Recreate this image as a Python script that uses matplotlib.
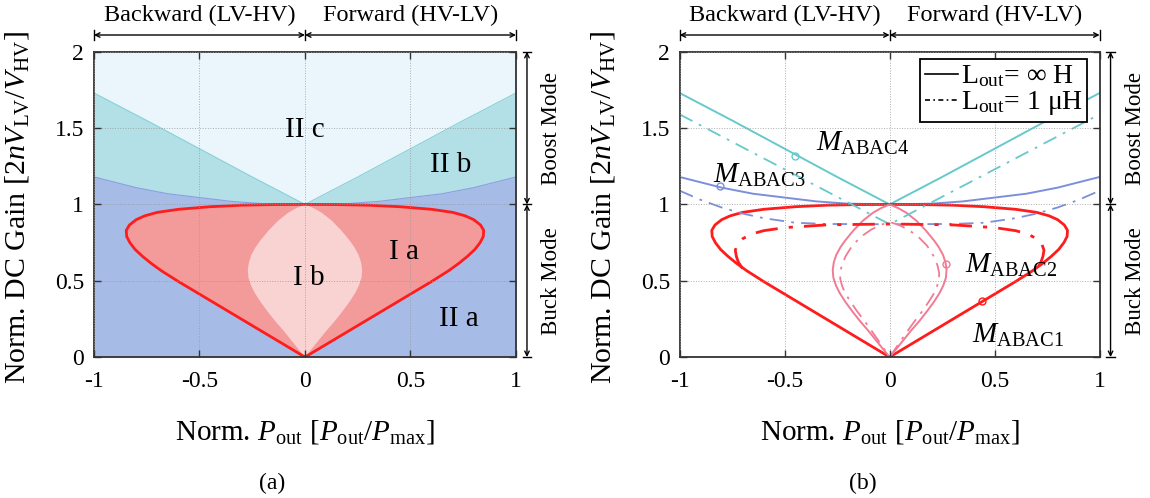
import matplotlib
matplotlib.use("Agg")
import matplotlib.pyplot as plt
from matplotlib.lines import Line2D
import numpy as np

plt.rcParams['font.family'] = ['Liberation Serif', 'DejaVu Serif']
plt.rcParams['mathtext.fontset'] = 'custom'
plt.rcParams['mathtext.rm'] = 'Liberation Serif'
plt.rcParams['mathtext.it'] = 'Liberation Serif:italic'
plt.rcParams['axes.unicode_minus'] = False

# ===== DATA (right half of each symmetric curve) =====
# M_ABAC1 boundary (region I a), solid and dash-dot
abac1_x = [0.0, 0.2, 0.4, 0.6, 0.68, 0.73, 0.77, 0.805, 0.83, 0.845, 0.847, 0.832,
           0.80, 0.76, 0.70, 0.60, 0.45, 0.30, 0.15, 0.0]
abac1_y = [0.0, 0.165, 0.33, 0.495, 0.565, 0.615, 0.66, 0.705, 0.75, 0.79, 0.83, 0.865,
           0.90, 0.925, 0.948, 0.968, 0.985, 0.995, 0.999, 1.0]
abac1_dd_x = [0.0, 0.3, 0.5, 0.6, 0.66, 0.70, 0.725, 0.735, 0.73, 0.72, 0.70]
abac1_dd_y = [0.872, 0.866, 0.848, 0.828, 0.805, 0.775, 0.74, 0.70, 0.66, 0.62, 0.58]

# M_ABAC2 lens (region I b), solid and dash-dot
abac2_x = [0.0, 0.03, 0.062, 0.10, 0.142, 0.178, 0.21, 0.238, 0.256, 0.268, 0.271,
           0.266, 0.254, 0.234, 0.212, 0.172, 0.126, 0.08, 0.042, 0.0]
abac2_y = [0.0, 0.05, 0.105, 0.17, 0.237, 0.30, 0.36, 0.42, 0.47, 0.52, 0.57,
           0.62, 0.67, 0.72, 0.763, 0.83, 0.895, 0.945, 0.975, 1.0]
abac2_dd_x = [0.0, 0.025, 0.052, 0.085, 0.12, 0.155, 0.185, 0.208, 0.225, 0.235, 0.236,
              0.228, 0.21, 0.178, 0.135, 0.088, 0.045, 0.0]
abac2_dd_y = [0.0, 0.05, 0.105, 0.17, 0.237, 0.30, 0.36, 0.41, 0.46, 0.51, 0.55, 0.60,
              0.66, 0.73, 0.79, 0.835, 0.865, 0.885]

# M_ABAC3 (blue)
abac3_x = [0.0, 0.2, 0.35, 0.5, 0.65, 0.8, 0.9, 1.0]
abac3_y = [1.0, 1.005, 1.02, 1.045, 1.07, 1.11, 1.145, 1.18]
abac3_dd_x = [0.0, 0.3, 0.45, 0.6, 0.7, 0.8, 0.9, 1.0]
abac3_dd_y = [0.87, 0.872, 0.88, 0.91, 0.94, 0.98, 1.03, 1.09]

# M_ABAC4 (cyan)
abac4_x = [0.0, 0.25, 0.5, 0.75, 1.0]
abac4_y = [1.0, 1.18, 1.365, 1.55, 1.73]
abac4_dd_x = [0.0, 0.5, 1.0]
abac4_dd_y = [0.87, 1.23, 1.59]


def mirror_closed(xr, yr):
    xr = np.asarray(xr); yr = np.asarray(yr)
    return np.concatenate([xr, -xr[::-1]]), np.concatenate([yr, yr[::-1]])


def mirror_open(xr, yr):
    xr = np.asarray(xr); yr = np.asarray(yr)
    return np.concatenate([-xr[::-1], xr]), np.concatenate([yr[::-1], yr])


C_BG = '#eaf6fb'
C_IIB = '#b3dfe7'
C_IIA = '#a6bce6'
C_IA = '#f39a9a'
C_IB = '#f9d2d2'
C_RED = '#ff1c1c'
C_PINK = '#f27a95'
C_BLUE = '#7b8fdc'
C_CYAN = '#66c9cc'

fig = plt.figure(figsize=(11.5, 4.98), dpi=100)
ax_a = fig.add_axes([0.0817, 0.283, 0.367, 0.613])
ax_b = fig.add_axes([0.591, 0.283, 0.3652, 0.613])


def style_axes(ax):
    ax.set_xlim(-1, 1)
    ax.set_ylim(0, 2)
    ax.set_xticks([-1, -0.5, 0, 0.5, 1])
    ax.set_xticklabels(['-1', '-0.5', '0', '0.5', '1'])
    ax.set_yticks([0, 0.5, 1, 1.5, 2])
    ax.set_yticklabels(['0', '0.5', '1', '1.5', '2'])
    ax.tick_params(direction='in', top=True, right=True, labelsize=17, length=5,
                   width=1, color='#333333')
    ax.tick_params(axis='x', pad=10)
    ax.tick_params(axis='y', pad=7)
    for s in ax.spines.values():
        s.set_color('#333333')
        s.set_linewidth(1.3)
    ax.grid(True, linestyle=':', color='#999999', linewidth=0.7, alpha=0.8)
    ax.set_axisbelow(False)
    ax.set_xlabel(r'Norm. $P_{\mathrm{out}}$ [$P_{\mathrm{out}}$/$P_{\mathrm{max}}$]', fontsize=21)
    ax.xaxis.set_label_coords(0.5, -0.2)
    ax.set_ylabel(r'Norm. DC Gain [2$n$$V_{\mathrm{LV}}$/$V_{\mathrm{HV}}$]', fontsize=21.5)
    ax.yaxis.set_label_coords(-0.15, 0.49)

    # top direction brackets
    yb = 2.11
    for x0, x1, lab in [(-1, 0, 'Backward (LV-HV)'), (0, 1, 'Forward (HV-LV)')]:
        ax.annotate('', xy=(x0, yb), xytext=(x1, yb), xycoords='data',
                    arrowprops=dict(arrowstyle='<->', lw=1, color='k',
                                    shrinkA=0, shrinkB=0, mutation_scale=8),
                    annotation_clip=False)
        ax.text((x0 + x1) / 2, 2.235, lab, ha='center', va='center', fontsize=17.5)
    for xt in [-1, 0, 1]:
        ax.plot([xt, xt], [yb - 0.03, yb + 0.03], color='k', lw=1, clip_on=False)

    # right mode brackets
    xb = 1.052
    for y0, y1, lab in [(1, 2, 'Boost Mode'), (0, 1, 'Buck Mode')]:
        ax.annotate('', xy=(xb, y0), xytext=(xb, y1), xycoords='data',
                    arrowprops=dict(arrowstyle='<->', lw=1, color='k',
                                    shrinkA=0, shrinkB=0, mutation_scale=8),
                    annotation_clip=False)
        ax.text(1.17, (y0 + y1) / 2, lab, ha='center', va='center',
                rotation=90, fontsize=16.5)
    for yt in [0, 1, 2]:
        ax.plot([xb - 0.02, xb + 0.02], [yt, yt], color='k', lw=1, clip_on=False)


# ===== panel (a) : operating regions =====
ax_a.set_facecolor(C_BG)
cx, cy = mirror_open(abac4_x, abac4_y)
ax_a.fill_between(cx, cy, 0, color=C_IIB, lw=0)
ax_a.plot(cx, cy, color='#86d0d6', lw=0.8)
bx, by = mirror_open(abac3_x, abac3_y)
ax_a.fill_between(bx, by, 0, color=C_IIA, lw=0)
ax_a.plot(bx, by, color='#8a9fe0', lw=0.8)
rx, ry = mirror_closed(abac1_x, abac1_y)
ax_a.fill(rx, ry, color=C_IA, lw=0)
ax_a.plot(rx, ry, color=C_RED, lw=2)
px, py = mirror_closed(abac2_x, abac2_y)
ax_a.fill(px, py, color=C_IB, lw=0)

for x, y, t in [(0, 1.49, 'II c'), (0.69, 1.26, 'II b'), (0.47, 0.69, 'I a'),
                (0.02, 0.52, 'I b'), (0.73, 0.25, 'II a')]:
    ax_a.text(x, y, t, ha='center', va='center', fontsize=21)

style_axes(ax_a)

# ===== panel (b) : gain curves =====
ax_b.set_facecolor('white')
for xr, yr, c, closed, lw in [(abac4_x, abac4_y, C_CYAN, False, 1.4),
                              (abac3_x, abac3_y, C_BLUE, False, 1.4),
                              (abac1_x, abac1_y, C_RED, True, 2.0),
                              (abac2_x, abac2_y, C_PINK, True, 1.4)]:
    x, y = mirror_closed(xr, yr) if closed else mirror_open(xr, yr)
    ax_b.plot(x, y, color=c, lw=lw, ls='-')

for xr, yr, c, closed, lw in [(abac4_dd_x, abac4_dd_y, C_CYAN, False, 1.3),
                              (abac3_dd_x, abac3_dd_y, C_BLUE, False, 1.3),
                              (abac1_dd_x, abac1_dd_y, C_RED, False, 2.0),
                              (abac2_dd_x, abac2_dd_y, C_PINK, True, 1.3)]:
    x, y = mirror_closed(xr, yr) if closed else mirror_open(xr, yr)
    ax_b.plot(x, y, color=c, lw=lw, ls=(0, (8, 4, 1.5, 4)))

# curve labels with small loop markers
labels_b = [(-0.45, 1.32, -0.35, 1.40, 'ABAC4', C_CYAN),
            (-0.81, 1.12, -0.84, 1.19, 'ABAC3', C_BLUE),
            (0.27, 0.61, 0.36, 0.60, 'ABAC2', C_PINK),
            (0.44, 0.37, 0.39, 0.14, 'ABAC1', C_RED)]
for mx, my, tx, ty, sub, c in labels_b:
    ax_b.plot([mx], [my], marker='o', ms=5, mfc='none', mec=c, mew=1)
    ax_b.text(tx, ty, r'$M_{\mathrm{%s}}$' % sub, ha='left', va='center', fontsize=21)

handles = [Line2D([], [], color='k', lw=1.2, ls='-'),
           Line2D([], [], color='k', lw=1.2, ls=(0, (3, 2, 1, 2)))]
leg = ax_b.legend(handles, [r'L$_{\mathrm{out}}$= ∞ H', r'L$_{\mathrm{out}}$= 1 μH'],
                  loc='upper right', bbox_to_anchor=(0.97, 0.975), fontsize=20,
                  handlelength=1.2, handletextpad=0.1, borderaxespad=0,
                  borderpad=0.15, labelspacing=0.0, fancybox=False, framealpha=1)
leg.get_frame().set_edgecolor('k')
leg.get_frame().set_linewidth(1.3)

style_axes(ax_b)

fig.text(0.2365, 0.03, '(a)', ha='center', va='center', fontsize=17)
fig.text(0.75, 0.03, '(b)', ha='center', va='center', fontsize=17)

fig.savefig('out.png', dpi=100)
